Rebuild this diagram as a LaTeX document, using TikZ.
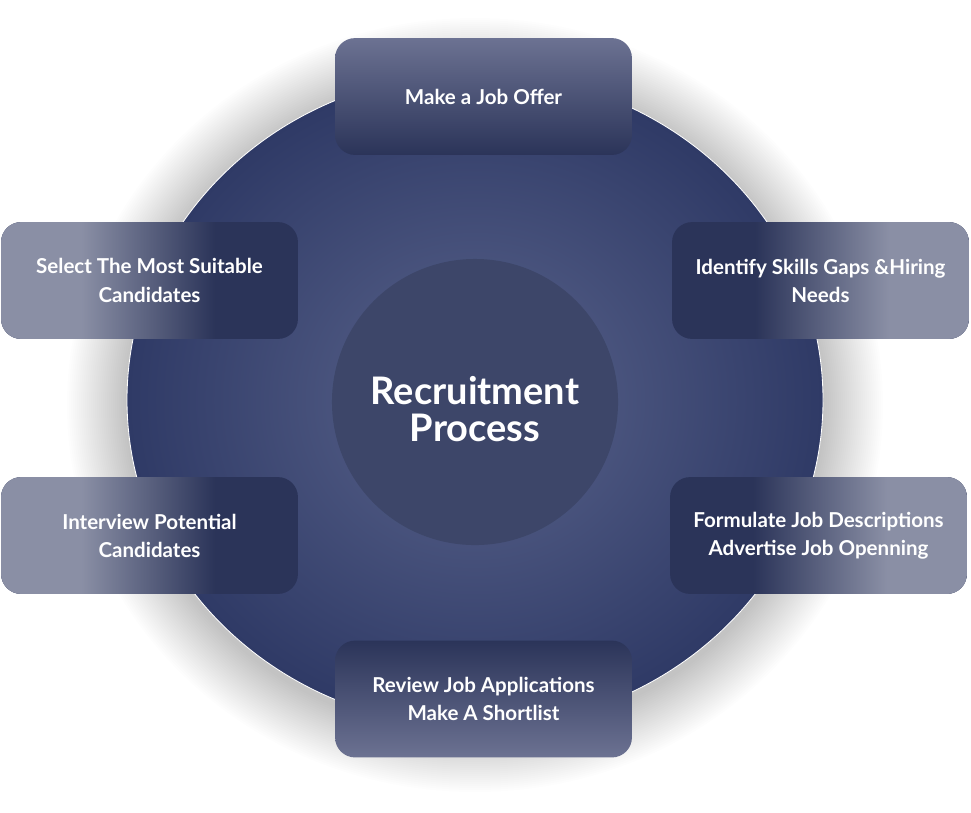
\documentclass[tikz,border=0pt]{standalone}
\usepackage{fontspec}
\setmainfont{Lato}
\usetikzlibrary{positioning,calc}
\definecolor{boxlight}{HTML}{8A8FA5}
\definecolor{boxdark}{HTML}{2B3459}
\definecolor{boxtop}{HTML}{6C7292}
\definecolor{ringedge}{HTML}{2F3A66}
\definecolor{ringmid}{HTML}{5A648C}
\definecolor{hubfill}{HTML}{3D4669}
\begin{document}
\begin{tikzpicture}[x=0.025cm,y=-0.025cm,
  stage/.style={rounded corners=0.5cm,minimum width=7.42cm,minimum height=2.92cm,
    inner sep=0pt,align=center,text=white,font=\bfseries\fontsize{14.6}{20}\selectfont},
  fadeleft/.style={fill=boxdark,path picture={
    \fill[boxlight,sharp corners] (path picture bounding box.south west) rectangle
      ($(path picture bounding box.north west)!.27!(path picture bounding box.north east)$);
    \shade[left color=boxlight,right color=boxdark,sharp corners]
      ($(path picture bounding box.south west)!.27!(path picture bounding box.south east)$) rectangle
      ($(path picture bounding box.north west)!.72!(path picture bounding box.north east)$);}},
  faderight/.style={fill=boxdark,path picture={
    \fill[boxlight,sharp corners] (path picture bounding box.south east) rectangle
      ($(path picture bounding box.north east)!.27!(path picture bounding box.north west)$);
    \shade[right color=boxlight,left color=boxdark,sharp corners]
      ($(path picture bounding box.south east)!.27!(path picture bounding box.south west)$) rectangle
      ($(path picture bounding box.north east)!.72!(path picture bounding box.north west)$);}},
  hub/.style={circle,minimum size=7.15cm,fill=hubfill},
  title/.style={align=center,text=white,font=\bfseries\fontsize{27}{26}\selectfont}]
\useasboundingbox[fill=white] (0,0) rectangle (971,812);
% soft shadow round the ring
\foreach \s in {1,...,30}
  \fill[black,opacity=.007] (475,405) ellipse ({348+2*\s} and {327+2*\s});
\shade[inner color=ringmid,outer color=ringedge,draw=white,line width=0.6pt] (475,400) ellipse (348 and 327);
\node[hub] (hub) at (475,402) {};
\node[title] (name) at (475,409) {Recruitment\\Process};
% the six steps
\node[stage,top color=boxtop,bottom color=boxdark] (offer) at (483.5,96.5) {Make a Job Offer};
\node[stage,fadeleft] (select) at (149.5,280.5) {Select The Most Suitable\\Candidates};
\node[stage,fadeleft] (interview) at (149.5,535.5) {Interview Potential\\Candidates};
\node[stage,faderight] (identify) at (820.5,280.5) {Identify Skills Gaps \&Hiring\\Needs};
\node[stage,faderight] (formulate) at (818.5,535.5) {Formulate Job Descriptions\\Advertise Job Openning};
\node[stage,top color=boxdark,bottom color=boxtop] (review) at (483.5,699) {Review Job Applications\\Make A Shortlist};
\end{tikzpicture}
\end{document}
